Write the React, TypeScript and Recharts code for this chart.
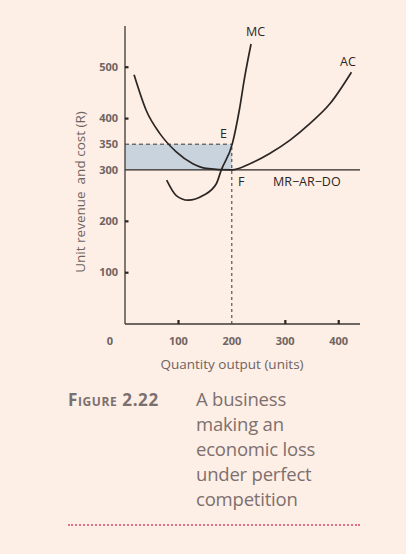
import { ComposedChart, Line, XAxis, YAxis, ReferenceArea, ReferenceLine } from 'recharts'

const xTicks = [0, 100, 200, 300, 400]
const yTicks = [100, 200, 300, 350, 400, 500]

const mcQty = [78, 96, 118, 146, 171, 180, 201, 214, 224, 236]
const mcCost = [280, 250, 241, 250, 273, 299, 351, 416, 480, 545]

const acQty = [17, 40, 65, 96, 127, 152, 200, 234, 271, 309, 346, 384, 424]
const acCost = [485, 415, 371, 335, 312, 303, 300, 312, 332, 358, 390, 429, 490]

const price = 300
const lossCost = 350
const outputQ = 200

const captionLines = ['A business', 'making an', 'economic loss', 'under perfect', 'competition']

const mcData = mcQty.map((q, i) => ({ q, v: mcCost[i] }))
const acData = acQty.map((q, i) => ({ q, v: acCost[i] }))

const ink = '#2b2624'
const grey = '#6f6461'
const font = '"Open Sans", "DejaVu Sans", sans-serif'

function XTick(props: any) {
  const { x, y, payload } = props
  const v = payload.value
  return (
    <g>
      {v !== 0 && v !== outputQ && <rect x={x - 1} y={y - 4} width={2.2} height={4} fill={ink} />}
      <text x={v === 0 ? x - 15 : x} y={y + 21} textAnchor="middle" fontSize={11} fontWeight={700} fill={grey} fontFamily={font}>
        {v}
      </text>
    </g>
  )
}

function YTick(props: any) {
  const { x, y, payload } = props
  const v = payload.value
  return (
    <g>
      {v !== lossCost && v !== price && <rect x={x} y={y - 1} width={3.5} height={2.2} fill={ink} />}
      <text x={x - 7} y={y} dy="0.35em" textAnchor="end" fontSize={11} fontWeight={700} fill={grey} fontFamily={font}>
        {v}
      </text>
    </g>
  )
}

export default function App() {
  return (
    <div style={{ position: 'fixed', left: 0, top: 0, width: 406, height: 554, background: '#fdeee6', overflow: 'hidden' }}>
      <ComposedChart width={406} height={554} margin={{ top: 26, right: 46, bottom: 200, left: 0 }}>
        <XAxis type="number" dataKey="q" domain={[0, 440]} ticks={xTicks} allowDataOverflow
          tickSize={0} tickMargin={0} tick={<XTick />} height={30}
          axisLine={{ stroke: '#3e3836', strokeWidth: 1.3 }} />
        <YAxis type="number" dataKey="v" domain={[0, 580]} ticks={yTicks} allowDataOverflow
          tickSize={0} tickMargin={0} tick={<YTick />} width={125}
          axisLine={{ stroke: '#3e3836', strokeWidth: 1.3 }} />
        <ReferenceArea x1={0} x2={outputQ} y1={price} y2={lossCost} fill="#c8d3de" fillOpacity={1} stroke="none" ifOverflow="visible" />
        <ReferenceLine segment={[{ x: 0, y: lossCost }, { x: outputQ, y: lossCost }]} stroke="#3a3432" strokeDasharray="4 3" strokeWidth={1} />
        <ReferenceLine segment={[{ x: outputQ, y: 0 }, { x: outputQ, y: lossCost }]} stroke="#3a3432" strokeDasharray="3 3" strokeWidth={1} />
        <ReferenceLine y={price} stroke={ink} strokeWidth={1.4} />
        <Line data={acData} dataKey="v" type="monotone" stroke={ink} strokeWidth={1.7} dot={false} isAnimationActive={false} />
        <Line data={mcData} dataKey="v" type="monotone" stroke={ink} strokeWidth={1.7} dot={false} isAnimationActive={false} />
      </ComposedChart>

      <div style={{ position: 'absolute', left: 246, top: 23, fontFamily: font, fontSize: 12.5, color: ink }}>MC</div>
      <div style={{ position: 'absolute', left: 340, top: 53, fontFamily: font, fontSize: 12.5, color: ink }}>AC</div>
      <div style={{ position: 'absolute', left: 220, top: 125, fontFamily: font, fontSize: 12.5, color: ink }}>E</div>
      <div style={{ position: 'absolute', left: 238, top: 173, fontFamily: font, fontSize: 12.5, color: ink }}>F</div>
      <div style={{ position: 'absolute', left: 273, top: 173, fontFamily: font, fontSize: 12.5, color: ink }}>MR−AR−DO</div>

      <div style={{ position: 'absolute', left: 80, top: 192, width: 0, height: 0 }}>
        <div style={{ position: 'absolute', transform: 'translate(-50%, -50%) rotate(-90deg)', whiteSpace: 'nowrap', fontFamily: font, fontSize: 13.5, color: grey }}>
          Unit revenue&nbsp; and cost (R)
        </div>
      </div>
      <div style={{ position: 'absolute', left: 232, top: 364, width: 0, height: 0 }}>
        <div style={{ position: 'absolute', transform: 'translate(-50%, -50%)', whiteSpace: 'nowrap', fontFamily: font, fontSize: 13.5, color: grey }}>
          Quantity output (units)
        </div>
      </div>

      <div style={{ position: 'absolute', left: 68, top: 388, fontFamily: font, fontSize: 17, fontWeight: 700, color: '#7b706e', fontVariant: 'small-caps', letterSpacing: 0.6 }}>
        Figure 2.22
      </div>
      <div style={{ position: 'absolute', left: 196, top: 386, fontFamily: font, fontSize: 18.5, lineHeight: '25px', color: '#7e706e', letterSpacing: -0.2 }}>
        {captionLines.map((l) => <div key={l}>{l}</div>)}
      </div>
      <div style={{ position: 'absolute', left: 68, top: 524, width: 292, height: 0, borderTop: '2px dotted #e0708a' }} />
    </div>
  )
}
